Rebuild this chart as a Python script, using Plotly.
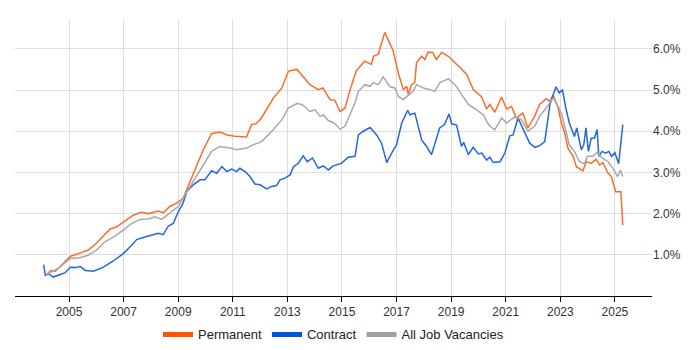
import plotly.graph_objects as go

perm_x = [2004.15, 2004.33, 2004.5, 2004.8, 2005.04, 2005.4, 2005.7, 2006.0, 2006.5, 2006.75,
          2007.05, 2007.35, 2007.66, 2007.9, 2008.27, 2008.45, 2008.7, 2008.93, 2009.18, 2009.55,
          2009.92, 2010.22, 2010.53, 2010.8, 2011.07, 2011.5, 2011.69, 2011.85, 2012.0, 2012.12,
          2012.49, 2012.8, 2013.04, 2013.35, 2013.83, 2014.13, 2014.3, 2014.56, 2014.74, 2014.93,
          2015.11, 2015.3, 2015.52, 2015.83, 2016.08, 2016.15, 2016.33, 2016.57, 2016.88, 2017.06,
          2017.25, 2017.37, 2017.43, 2017.55, 2017.67, 2017.73, 2017.92, 2018.04, 2018.15, 2018.33,
          2018.46, 2018.65, 2018.9, 2019.33, 2019.57, 2019.81, 2020.12, 2020.3, 2020.42, 2020.6,
          2020.85, 2021.03, 2021.21, 2021.39, 2021.63, 2021.81, 2022.06, 2022.24, 2022.49, 2022.61,
          2022.74, 2022.92, 2023.04, 2023.16, 2023.28, 2023.47, 2023.59, 2023.83, 2023.95, 2024.14,
          2024.32, 2024.44, 2024.56, 2024.75, 2024.87, 2025.03, 2025.22, 2025.29]
perm_y = [0.50, 0.62, 0.60, 0.79, 0.96, 1.04, 1.11, 1.28, 1.62, 1.68,
          1.82, 1.96, 2.03, 2.00, 2.06, 2.02, 2.18, 2.25, 2.37, 2.98,
          3.55, 3.94, 3.98, 3.91, 3.88, 3.86, 4.16, 4.18, 4.28, 4.40,
          4.81, 5.05, 5.46, 5.50, 5.13, 5.01, 5.05, 4.77, 4.75, 4.48,
          4.56, 5.01, 5.46, 5.70, 5.62, 5.82, 5.87, 6.40, 5.95, 5.42,
          5.01, 5.09, 4.89, 5.13, 5.18, 5.66, 5.82, 5.74, 5.92, 5.91,
          5.74, 5.91, 5.82, 5.54, 5.38, 5.01, 4.83, 4.54, 4.65, 4.46,
          4.83, 4.54, 4.60, 4.32, 4.44, 4.08, 4.36, 4.65, 4.79, 4.73,
          4.87, 4.57, 4.20, 3.96, 3.59, 3.39, 3.14, 3.04, 3.26, 3.22,
          3.32, 3.18, 3.24, 2.98, 2.90, 2.53, 2.53, 1.72]

contract_x = [2004.07, 2004.13, 2004.25, 2004.42, 2004.67, 2004.85, 2005.04, 2005.28, 2005.4, 2005.6,
              2005.89, 2006.26, 2006.62, 2006.99, 2007.23, 2007.48, 2007.78, 2008.09, 2008.27, 2008.45,
              2008.64, 2008.82, 2009.0, 2009.18, 2009.31, 2009.55, 2009.8, 2009.98, 2010.22, 2010.41,
              2010.6, 2010.78, 2010.96, 2011.14, 2011.26, 2011.45, 2011.63, 2011.81, 2012.0, 2012.24,
              2012.42, 2012.6, 2012.73, 2012.91, 2013.1, 2013.22, 2013.4, 2013.58, 2013.73, 2013.92,
              2014.13, 2014.32, 2014.5, 2014.68, 2014.98, 2015.23, 2015.48, 2015.6, 2015.78, 2016.03,
              2016.27, 2016.45, 2016.64, 2016.82, 2017.0, 2017.19, 2017.41, 2017.49, 2017.67, 2017.92,
              2018.1, 2018.28, 2018.46, 2018.58, 2018.76, 2018.92, 2019.02, 2019.2, 2019.38, 2019.46,
              2019.63, 2019.81, 2020.0, 2020.12, 2020.3, 2020.42, 2020.54, 2020.79, 2020.97, 2021.15,
              2021.27, 2021.45, 2021.7, 2021.88, 2022.07, 2022.25, 2022.43, 2022.62, 2022.84, 2022.96,
              2023.08, 2023.2, 2023.33, 2023.52, 2023.6, 2023.77, 2023.86, 2023.94, 2024.03, 2024.13,
              2024.25, 2024.35, 2024.41, 2024.53, 2024.66, 2024.78, 2024.88, 2025.0, 2025.14, 2025.29]
contract_y = [0.76, 0.50, 0.54, 0.46, 0.52, 0.56, 0.70, 0.69, 0.72, 0.62,
              0.60, 0.70, 0.85, 1.03, 1.19, 1.37, 1.43, 1.48, 1.52, 1.49,
              1.70, 1.76, 2.04, 2.26, 2.53, 2.70, 2.82, 2.82, 3.04, 2.98,
              3.14, 3.02, 3.08, 3.02, 3.10, 3.02, 2.90, 2.72, 2.70, 2.60,
              2.66, 2.68, 2.82, 2.86, 2.94, 3.14, 3.22, 3.40, 3.26, 3.35,
              3.10, 3.16, 3.06, 3.16, 3.22, 3.37, 3.39, 3.91, 4.00, 4.09,
              3.91, 3.71, 3.24, 3.47, 3.67, 4.20, 4.51, 4.40, 4.44, 3.79,
              3.63, 3.43, 3.83, 4.08, 4.16, 4.42, 4.18, 4.15, 3.63, 3.73,
              3.43, 3.61, 3.45, 3.47, 3.30, 3.37, 3.24, 3.26, 3.47, 3.89,
              3.91, 4.32, 3.96, 3.71, 3.61, 3.65, 3.75, 4.65, 5.08, 4.93,
              5.01, 4.57, 4.20, 3.87, 4.08, 3.55, 3.67, 4.08, 3.51, 3.83,
              3.83, 4.04, 3.39, 3.51, 3.47, 3.51, 3.39, 3.48, 3.21, 4.16]

all_x = [2004.15, 2004.33, 2004.67, 2005.04, 2005.4, 2005.7, 2006.0, 2006.3, 2006.62, 2006.99,
         2007.29, 2007.6, 2007.9, 2008.15, 2008.39, 2008.7, 2009.0, 2009.3, 2009.6, 2009.92,
         2010.22, 2010.53, 2010.9, 2011.14, 2011.5, 2011.74, 2012.0, 2012.12, 2012.49, 2012.8,
         2013.04, 2013.35, 2013.53, 2013.83, 2014.01, 2014.2, 2014.32, 2014.5, 2014.71, 2014.93,
         2015.11, 2015.3, 2015.48, 2015.6, 2015.84, 2016.03, 2016.15, 2016.33, 2016.51, 2016.76,
         2016.94, 2017.06, 2017.25, 2017.43, 2017.61, 2017.73, 2017.98, 2018.22, 2018.4, 2018.59,
         2018.9, 2019.14, 2019.44, 2019.63, 2019.93, 2020.18, 2020.3, 2020.42, 2020.6, 2020.85,
         2021.03, 2021.33, 2021.57, 2021.81, 2022.06, 2022.24, 2022.49, 2022.74, 2022.92, 2023.04,
         2023.16, 2023.33, 2023.52, 2023.7, 2023.88, 2024.0, 2024.18, 2024.35, 2024.53, 2024.75,
         2024.93, 2025.1, 2025.2, 2025.29]
all_y = [0.50, 0.58, 0.70, 0.91, 0.93, 0.99, 1.11, 1.31, 1.43, 1.60,
         1.76, 1.86, 1.87, 1.92, 1.86, 2.02, 2.17, 2.51, 2.82, 3.18,
         3.51, 3.63, 3.59, 3.55, 3.59, 3.67, 3.73, 3.79, 4.04, 4.28,
         4.57, 4.67, 4.65, 4.48, 4.52, 4.36, 4.40, 4.26, 4.20, 4.05,
         4.12, 4.43, 4.69, 4.97, 5.13, 5.09, 5.18, 5.13, 5.32, 5.08,
         5.05, 4.85, 4.77, 4.87, 4.97, 5.13, 5.05, 5.01, 4.97, 5.18,
         5.27, 5.13, 4.85, 4.65, 4.52, 4.40, 4.24, 4.12, 4.04, 4.32,
         4.20, 4.35, 4.28, 4.00, 4.12, 4.36, 4.57, 4.81, 4.60, 4.44,
         4.12, 3.67, 3.51, 3.26, 3.21, 3.39, 3.39, 3.48, 3.35, 3.26,
         3.10, 2.90, 3.06, 2.90]

x_ticks = [2005, 2007, 2009, 2011, 2013, 2015, 2017, 2019, 2021, 2023, 2025]
y_ticks = [1, 2, 3, 4, 5, 6]
y_labels = ["1.0%", "2.0%", "3.0%", "4.0%", "5.0%", "6.0%"]

names = ["Permanent", "Contract", "All Job Vacancies"]
line_colors = ["#FF6A2A", "#2366E0", "#A8A8A8"]
legend_colors = ["#FF5500", "#0055DD", "#A0A0A0"]

fig = go.Figure()
for (xs, ys), name, col in zip([(perm_x, perm_y), (contract_x, contract_y), (all_x, all_y)],
                               names, line_colors):
    fig.add_trace(go.Scatter(x=xs, y=ys, mode="lines", name=name, showlegend=False,
                             line=dict(color=col, width=1.5), hoverinfo="skip"))
for name, col in zip(names, legend_colors):
    fig.add_trace(go.Scatter(x=[None], y=[None], mode="lines", name=name,
                             line=dict(color=col, width=5)))

fig.update_layout(
    width=700, height=350,
    margin=dict(l=15, r=48, t=20, b=54, autoexpand=False),
    paper_bgcolor="white", plot_bgcolor="white",
    font=dict(family="Liberation Sans, Arial, sans-serif", size=12, color="#333333"),
    showlegend=True,
    legend=dict(orientation="h", x=0.5, xanchor="center", y=-0.085, yanchor="top",
                font=dict(size=13, color="#222222"), itemwidth=30, traceorder="normal"),
    xaxis=dict(range=[2003.02, 2026.36], tickvals=x_ticks, ticktext=[str(v) for v in x_ticks],
               showgrid=True, gridcolor="#DDDDDD", gridwidth=1, zeroline=False,
               showline=True, linecolor="#000000", linewidth=1,
               ticks="outside", ticklen=5, tickcolor="#000000"),
    yaxis=dict(range=[0, 6.7], side="right", tickvals=y_ticks, ticktext=y_labels,
               showgrid=True, gridcolor="#DDDDDD", gridwidth=1, zeroline=False,
               showline=False, ticks=""),
)

fig.write_html("out.html", config={"displayModeBar": False},
               post_script="document.body.style.margin='0';document.body.style.overflow='hidden';")
